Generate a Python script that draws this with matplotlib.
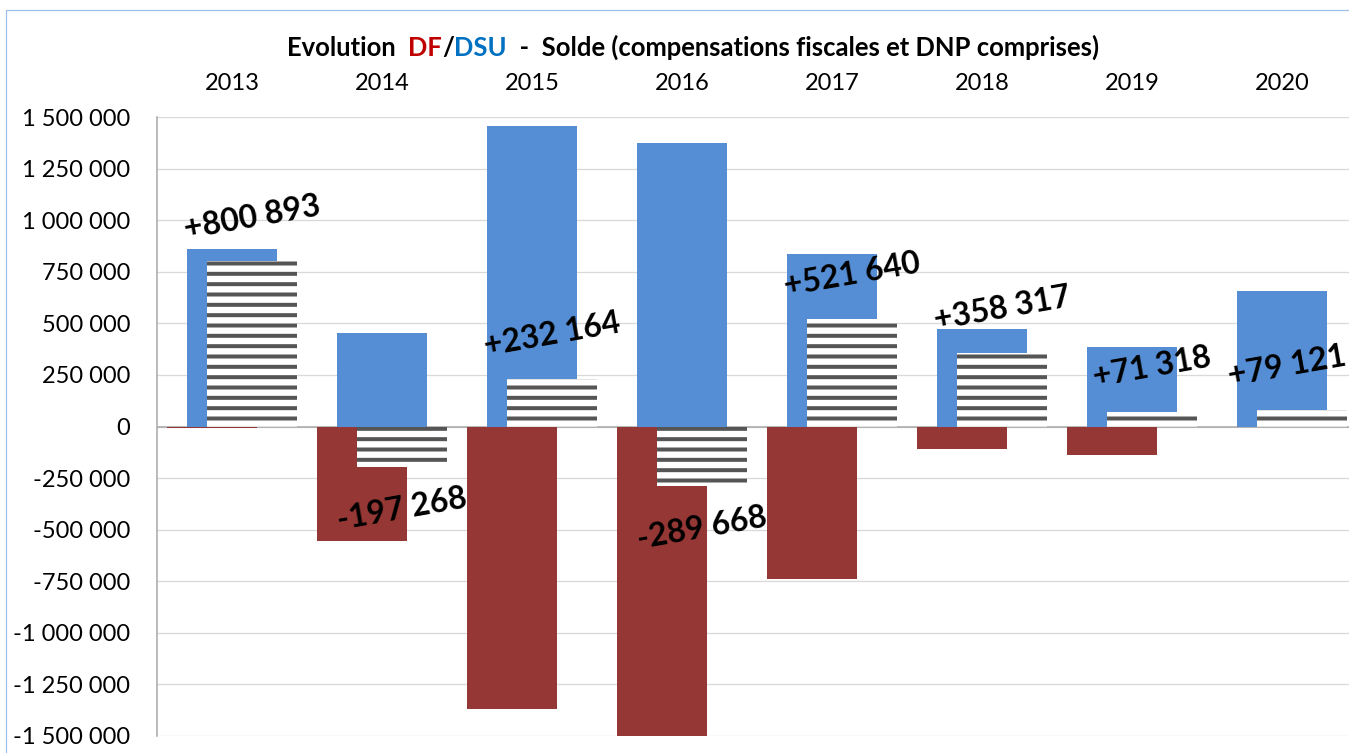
import matplotlib
matplotlib.use("Agg")
import matplotlib.pyplot as plt
import numpy as np
from matplotlib.patches import Rectangle
from matplotlib.ticker import FuncFormatter

# donnees
years = ["2013", "2014", "2015", "2016", "2017", "2018", "2019", "2020"]
dsu = [860000, 451000, 1455000, 1374000, 835000, 471000, 383000, 655000]
df = [-9000, -553000, -1369000, -1510000, -738000, -107000, -136000, 0]
solde = [800893, -197268, 232164, -289668, 521640, 358317, 71318, 79121]
solde_txt = ["+800 893", "-197 268", "+232 164", "-289 668",
             "+521 640", "+358 317", "+71 318", "+79 121"]

W, H = 1349, 753
DPI = 124  # hatch '--' -> une rayure tous les ~10 px


def px(p):
    # pixels -> points
    return p * 72.0 / DPI


blue = "#558ED5"
red = "#953735"
stripe = "#555555"

plt.rcParams["font.family"] = ["Lato", "DejaVu Sans"]
plt.rcParams["hatch.linewidth"] = px(4)

fig = plt.figure(figsize=(W / DPI, H / DPI), dpi=DPI)
ax = fig.add_axes([157 / W, (H - 736) / H, 1200 / W, 619 / H])

x = np.arange(len(years))
off = 20 / 150.0
w = 0.6
ax.bar(x - off, df, w, color=red, zorder=2)
ax.bar(x, dsu, w, color=blue, zorder=2)
ax.bar(x + off, solde, w, color="white", edgecolor=stripe, hatch="--",
       linewidth=0, zorder=3)

ax.axhline(0, color="#A6A6A6", lw=px(1.5), zorder=1)

ax.set_xlim(-0.5, 7.5)
ax.set_ylim(-1500000, 1500000)
ax.set_yticks(np.arange(-1500000, 1500001, 250000))
ax.yaxis.set_major_formatter(FuncFormatter(lambda v, p: f"{v:,.0f}".replace(",", " ")))
ax.set_xticks(x)
ax.set_xticklabels(years)
ax.xaxis.tick_top()
ax.tick_params(axis="x", length=0, pad=px(23), labelsize=13.7)
ax.tick_params(axis="y", length=0, pad=px(27), labelsize=13.7)
ax.grid(axis="y", color="#D9D9D9", lw=px(1.3))
ax.set_axisbelow(True)
for s in ["top", "right", "bottom"]:
    ax.spines[s].set_visible(False)
ax.spines["left"].set_color("#A6A6A6")
ax.spines["left"].set_linewidth(px(1.5))

# etiquettes du solde
for i, (v, t) in enumerate(zip(solde, solde_txt)):
    dy = 44 if v > 0 else -42
    dx = -15 if i == len(years) - 1 else 0
    ax.annotate(t, xy=(x[i] + off, v), xytext=(px(dx), px(dy)),
                textcoords="offset points", ha="center", va="center",
                rotation=10, rotation_mode="anchor", fontsize=18.6,
                fontweight="bold", zorder=5)

# titre multicolore
parts = [("Evolution  ", "black"), ("DF", "#C00000"), ("/", "black"),
         ("DSU", "#0070C0"),
         ("  -  Solde (compensations fiscales et DNP comprises)", "black")]
texts = []
for i, (txt, col) in enumerate(parts):
    va = "baseline" if i == 0 else "bottom"
    texts.append(fig.text(287 / W, (H - 56) / H, txt, color=col,
                          fontsize=14.9, fontweight="bold", va=va, ha="left"))
fig.canvas.draw()
r = fig.canvas.get_renderer()
bb0 = texts[0].get_window_extent(r)
xcur, ybot = bb0.x1, bb0.y0
for t in texts[1:]:
    t.set_position((xcur / W, ybot / H))
    xcur = t.get_window_extent(r).x1

# cadre du graphique
fig.add_artist(Rectangle((6 / W, -0.1), 2, (H - 10) / H + 0.1,
                         transform=fig.transFigure, fill=False,
                         ec="#9BBFEA", lw=px(1.2)))

fig.savefig("out.png", dpi=DPI)
